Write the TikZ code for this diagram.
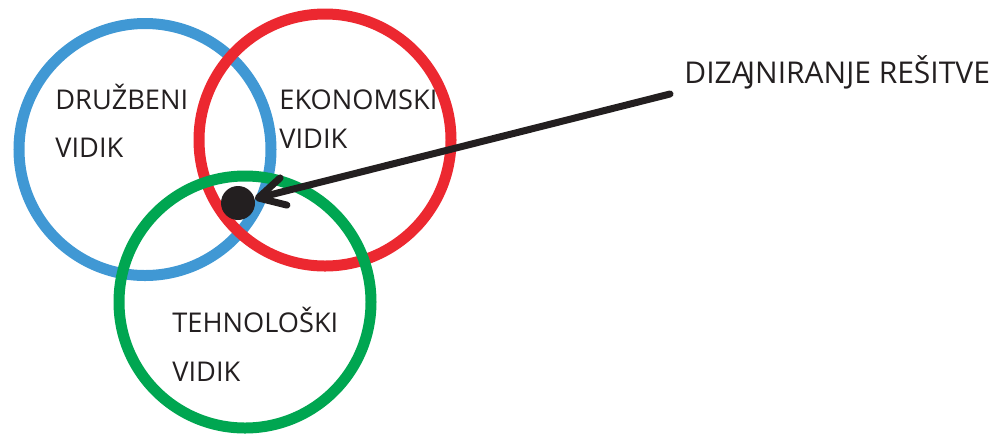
\documentclass[tikz,border=0pt]{standalone}
\usepackage{fontspec}
\setmainfont{Open Sans}
\usetikzlibrary{positioning,arrows.meta}
\definecolor{modra}{RGB}{64,152,212}
\definecolor{rdeca}{RGB}{236,40,48}
\definecolor{zelena}{RGB}{0,166,81}
\definecolor{crna}{RGB}{35,31,32}

\begin{document}
\begin{tikzpicture}
[x=0.5pt, y=-0.5pt,
krog/.style={circle, draw, line width=5.5pt, minimum size=126pt, inner sep=0pt},
napis/.style={anchor=base west, inner sep=0pt, text=crna,
font=\fontsize{13.6}{16}\selectfont}]
\useasboundingbox (0,0) rectangle (1001,435);
\node[krog, draw=modra] (druzbeni) at (145,149.5) {};
\node[krog, draw=rdeca] (ekonomski) at (325,140) {};
\node[krog, draw=zelena] (tehnoloski) at (245,302) {};
\node[circle, fill=crna, minimum size=17pt, inner sep=0pt] (resitev) at (238,203) {};

\node[napis] (druzbeni1) at (55,109) {DRUŽBENI};
\node[napis] (druzbeni2) at (55,157) {VIDIK};
\node[napis] (ekonomski1) at (279,109) {EKONOMSKI};
\node[napis] (ekonomski2) at (279,148) {VIDIK};
\node[napis] (tehnoloski1) at (172,332) {TEHNOLOŠKI};
\node[napis] (tehnoloski2) at (172,381) {VIDIK};
\node[napis, font=\fontsize{15}{18}\selectfont] (dizajn) at (684,83) {DIZA\kern-0.12em JNIRANJE REŠITVE};
\coordinate (zacetek) at (670,94);

\draw[crna, line width=3.5pt, line cap=round,
-{Straight Barb[round, length=13pt, width=14pt]}] (zacetek) -- (resitev);
\end{tikzpicture}
\end{document}
